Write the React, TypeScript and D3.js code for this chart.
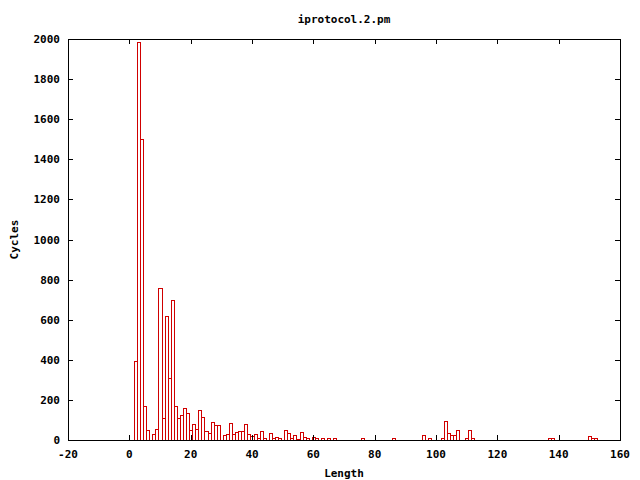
import { useRef, useEffect } from "react";
import * as d3 from "d3";

// histogram bins (non-empty only)
const lengths = [
  2, 3, 4, 5, 6, 8, 9, 10, 11, 12, 13, 14, 15, 16, 17, 18, 19, 20, 21, 22, 23,
  24, 25, 26, 27, 28, 29, 31, 32, 33, 34, 35, 36, 37, 38, 39, 40, 41, 42, 43,
  44, 46, 47, 48, 49, 51, 52, 53, 54, 55, 56, 57, 58, 60, 61, 63, 65, 67, 76,
  86, 96, 98, 102, 103, 104, 105, 106, 107, 110, 111, 112, 137, 138, 150, 151,
  152,
];
const cycles = [
  395, 1985, 1500, 170, 48, 30, 55, 760, 110, 620, 310, 700, 170, 110, 125,
  160, 135, 50, 80, 55, 150, 115, 45, 35, 90, 75, 75, 25, 30, 85, 30, 40, 45,
  45, 80, 30, 22, 30, 10, 45, 12, 35, 12, 17, 12, 50, 35, 12, 25, 5, 40, 17,
  12, 17, 12, 8, 8, 10, 8, 8, 25, 8, 8, 95, 35, 25, 25, 50, 8, 50, 10, 8, 8,
  20, 12, 8,
];
const xTicks = [-20, 0, 20, 40, 60, 80, 100, 120, 140, 160];
const yTicks = [0, 200, 400, 600, 800, 1000, 1200, 1400, 1600, 1800, 2000];

const title = "iprotocol.2.pm";
const xLabel = "Length";
const yLabel = "Cycles";

const App = () => {
  const svgRef = useRef(null);

  useEffect(() => {
    d3.select(svgRef.current).selectAll("*").remove();

    const width = 640;
    const height = 480;
    const left = 68;
    const right = 620;
    const top = 39;
    const bottom = 440;
    const font = "'DejaVu Sans Mono', monospace";
    const barColor = "#d00000";

    const svg = d3
      .select(svgRef.current)
      .attr("width", width)
      .attr("height", height)
      .style("background", "#fff");

    const x = d3.scaleLinear().domain([-20, 160]).range([left, right]);
    const y = d3.scaleLinear().domain([0, 2000]).range([bottom, top]);

    const data = lengths.map((l, i) => ({ len: l, val: cycles[i] }));

    // bars (unfilled boxes, width 1)
    svg
      .append("g")
      .selectAll("rect")
      .data(data)
      .enter()
      .append("rect")
      .attr("x", (d) => Math.round(x(d.len - 0.5)) + 0.5)
      .attr("y", (d) => Math.round(y(d.val)) + 0.5)
      .attr("width", (d) => Math.round(x(d.len + 0.5)) - Math.round(x(d.len - 0.5)))
      .attr("height", (d) => Math.round(y(0)) - Math.round(y(d.val)))
      .attr("fill", "none")
      .attr("stroke", barColor)
      .attr("stroke-width", 1)
      .attr("shape-rendering", "crispEdges");

    const tickLen = 5;
    const axis = svg.append("g").attr("shape-rendering", "crispEdges");

    // ticks on all four sides, pointing inwards
    xTicks.forEach((t) => {
      const px = Math.round(x(t)) + 0.5;
      axis
        .append("line")
        .attr("x1", px)
        .attr("x2", px)
        .attr("y1", bottom)
        .attr("y2", bottom - tickLen)
        .attr("stroke", "#000");
      axis
        .append("line")
        .attr("x1", px)
        .attr("x2", px)
        .attr("y1", top)
        .attr("y2", top + tickLen)
        .attr("stroke", "#000");
    });
    yTicks.forEach((t) => {
      const py = Math.round(y(t)) + 0.5;
      axis
        .append("line")
        .attr("x1", left)
        .attr("x2", left + tickLen)
        .attr("y1", py)
        .attr("y2", py)
        .attr("stroke", "#000");
      axis
        .append("line")
        .attr("x1", right)
        .attr("x2", right - tickLen)
        .attr("y1", py)
        .attr("y2", py)
        .attr("stroke", "#000");
    });

    // frame
    axis
      .append("rect")
      .attr("x", left + 0.5)
      .attr("y", top + 0.5)
      .attr("width", right - left)
      .attr("height", bottom - top)
      .attr("fill", "none")
      .attr("stroke", "#000");

    const labels = svg
      .append("g")
      .style("font-family", font)
      .style("font-size", "11px")
      .style("font-weight", "bold")
      .attr("fill", "#000");

    labels
      .selectAll("text.xt")
      .data(xTicks)
      .enter()
      .append("text")
      .attr("class", "xt")
      .attr("x", (d) => x(d))
      .attr("y", 458)
      .attr("text-anchor", "middle")
      .text((d) => d);

    labels
      .selectAll("text.yt")
      .data(yTicks)
      .enter()
      .append("text")
      .attr("class", "yt")
      .attr("x", 60)
      .attr("y", (d) => y(d) + 4)
      .attr("text-anchor", "end")
      .text((d) => d);

    labels
      .append("text")
      .attr("x", (left + right) / 2)
      .attr("y", 23)
      .attr("text-anchor", "middle")
      .text(title);

    labels
      .append("text")
      .attr("x", (left + right) / 2)
      .attr("y", 477)
      .attr("text-anchor", "middle")
      .text(xLabel);

    labels
      .append("text")
      .attr("transform", `translate(18,${(top + bottom) / 2}) rotate(-90)`)
      .attr("text-anchor", "middle")
      .text(yLabel);
  }, []);

  return (
    <div style={{ position: "absolute", left: 0, top: 0 }}>
      <svg ref={svgRef}></svg>
    </div>
  );
};

export default App;
